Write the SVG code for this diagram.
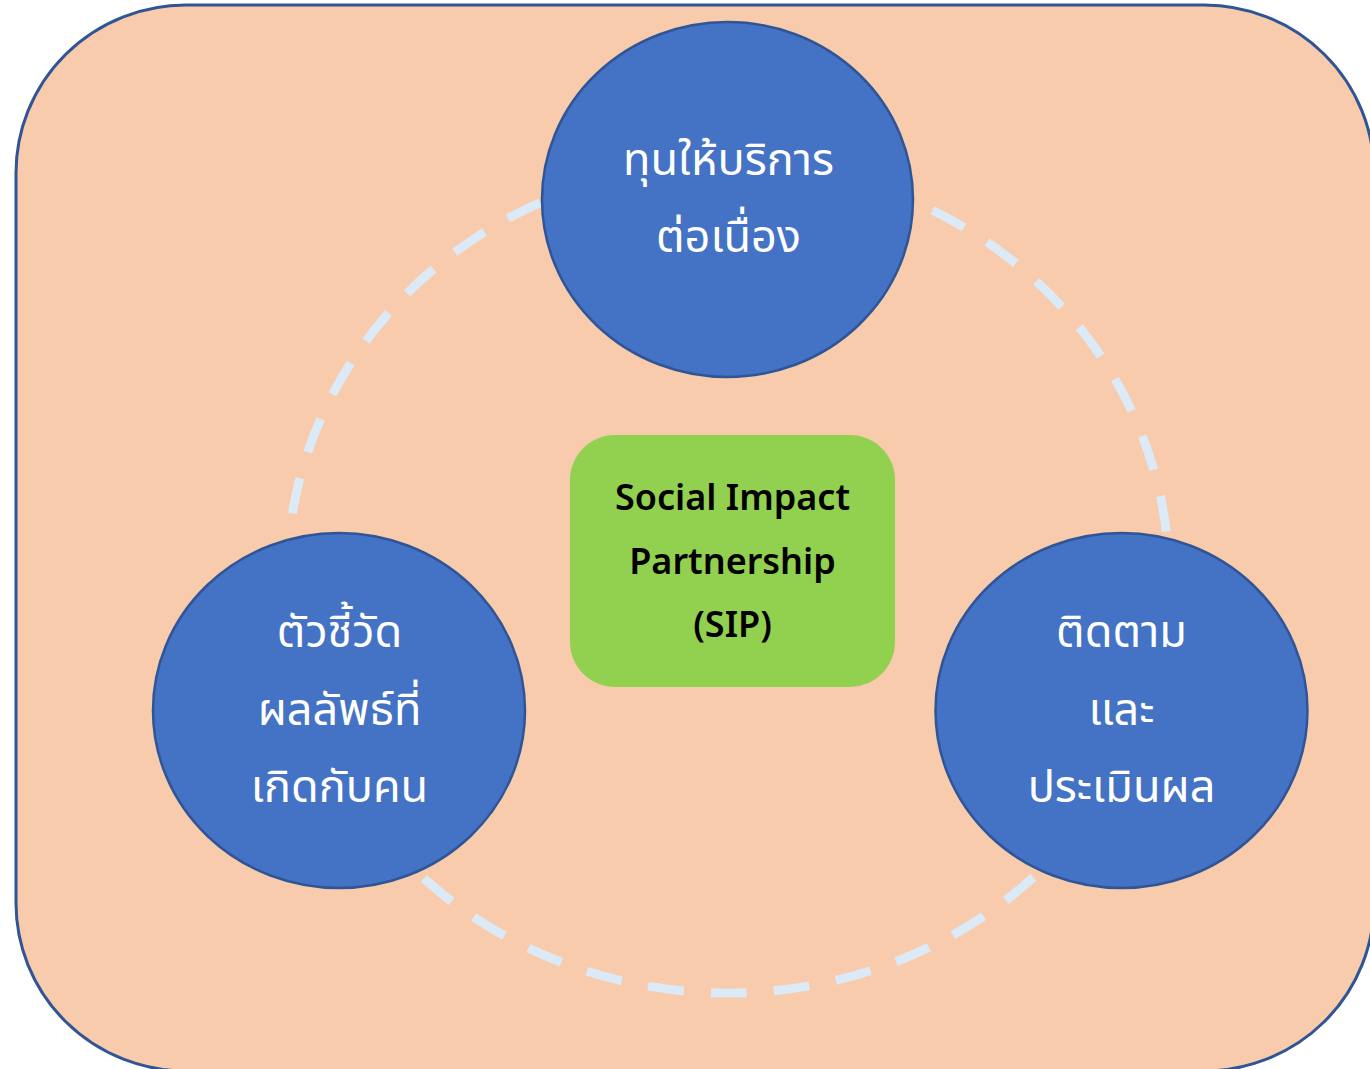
<svg xmlns="http://www.w3.org/2000/svg" width="1370" height="1069" viewBox="0 0 1370 1069">
  <style>
    .bg { fill: #F7CBAC; stroke: #2F5597; stroke-width: 3; }
    .ring { fill: none; stroke: #DCE9F6; stroke-width: 9; stroke-dasharray: 36 27; stroke-dashoffset: 39.5; }
    .node { fill: #4472C4; stroke: #2F5597; stroke-width: 2.5; }
    .hub { fill: #92D050; }
    .th { font-family: "Noto Sans Thai", "Noto Sans Thai Looped", "Noto Sans", sans-serif; fill: #FFFFFF; text-anchor: middle; font-size: 45px; }
    .en { font-family: "Noto Sans", "Open Sans", "Liberation Sans", sans-serif; font-weight: 600; fill: #000000; text-anchor: middle; font-size: 36px; }
  </style>
  <rect class="bg" x="16" y="5" width="1358" height="1066" rx="170" ry="168"/>
  <g id="connectors">
    <ellipse class="ring" cx="728" cy="578" rx="441" ry="415"/>
  </g>
  <g id="node-top">
    <ellipse class="node" cx="727.5" cy="199.5" rx="185.5" ry="177.5"/>
    <text class="th" x="728.5" y="175" font-size="46">ทุนให้บริการ</text>
    <text class="th" x="728.5" y="252" font-size="46">ต่อเนื่อง</text>
  </g>
  <g id="node-left">
    <ellipse class="node" cx="339" cy="710.5" rx="186" ry="177.5"/>
    <text class="th" x="339.5" y="647">ตัวชี้วัด</text>
    <text class="th" x="339.5" y="725">ผลลัพธ์ที่</text>
    <text class="th" x="339.5" y="802">เกิดกับคน</text>
  </g>
  <g id="node-right">
    <ellipse class="node" cx="1121.5" cy="710.5" rx="186" ry="177.5"/>
    <text class="th" x="1121.5" y="647">ติดตาม</text>
    <text class="th" x="1121.5" y="725">และ</text>
    <text class="th" x="1121.5" y="802">ประเมินผล</text>
  </g>
  <g id="node-center">
    <rect class="hub" x="570" y="435" width="325" height="252" rx="45" ry="45"/>
    <text class="en" x="732.5" y="510">Social Impact</text>
    <text class="en" x="732.5" y="574">Partnership</text>
    <text class="en" x="732.5" y="637">(SIP)</text>
  </g>
</svg>
